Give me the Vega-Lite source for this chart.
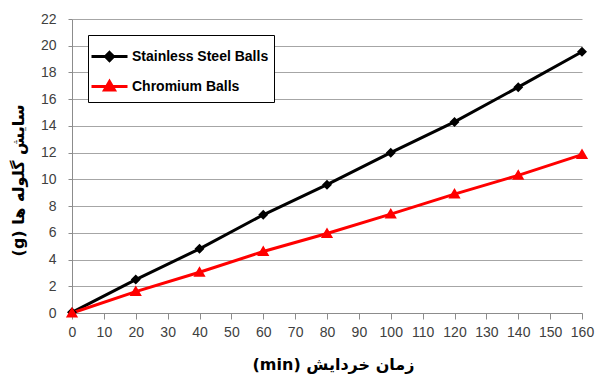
{
  "$schema": "https://vega.github.io/schema/vega-lite/v6.json",
  "width": 510,
  "height": 294,
  "autosize": {"type": "none"},
  "padding": {"left": 72, "top": 19, "right": 15, "bottom": 63},
  "background": "white",
  "config": {"view": {"stroke": null}},
  "data": {
    "values": [
      {"time": 0, "wear": 0.05, "series": "Stainless Steel Balls"},
      {"time": 20, "wear": 2.5, "series": "Stainless Steel Balls"},
      {"time": 40, "wear": 4.8, "series": "Stainless Steel Balls"},
      {"time": 60, "wear": 7.35, "series": "Stainless Steel Balls"},
      {"time": 80, "wear": 9.6, "series": "Stainless Steel Balls"},
      {"time": 100, "wear": 12.0, "series": "Stainless Steel Balls"},
      {"time": 120, "wear": 14.3, "series": "Stainless Steel Balls"},
      {"time": 140, "wear": 16.9, "series": "Stainless Steel Balls"},
      {"time": 160, "wear": 19.55, "series": "Stainless Steel Balls"},
      {"time": 0, "wear": 0, "series": "Chromium Balls"},
      {"time": 20, "wear": 1.6, "series": "Chromium Balls"},
      {"time": 40, "wear": 3.05, "series": "Chromium Balls"},
      {"time": 60, "wear": 4.6, "series": "Chromium Balls"},
      {"time": 80, "wear": 5.95, "series": "Chromium Balls"},
      {"time": 100, "wear": 7.4, "series": "Chromium Balls"},
      {"time": 120, "wear": 8.9, "series": "Chromium Balls"},
      {"time": 140, "wear": 10.3, "series": "Chromium Balls"},
      {"time": 160, "wear": 11.85, "series": "Chromium Balls"}
    ]
  },
  "encoding": {
    "x": {
      "field": "time", "type": "quantitative",
      "scale": {"domain": [0, 160], "nice": false},
      "axis": {
        "values": [0, 10, 20, 30, 40, 50, 60, 70, 80, 90, 100, 110, 120, 130, 140, 150, 160],
        "grid": false,
        "domainColor": "#8c8c8c", "tickColor": "#8c8c8c", "tickSize": 6,
        "labelFont": "Liberation Sans", "labelFontSize": 14, "labelColor": "#404040", "labelPadding": 6,
        "labelFlush": false, "labelOverlap": false,
        "title": "\u202Bزمان خردایش (min)\u202C",
        "titleFont": "DejaVu Sans", "titleFontSize": 16, "titleFontWeight": "bold", "titleColor": "#000000", "titlePadding": 17,
        "titleX": 261
      }
    },
    "y": {
      "field": "wear", "type": "quantitative",
      "scale": {"domain": [0, 22], "nice": false},
      "axis": {
        "values": [0, 2, 4, 6, 8, 10, 12, 14, 16, 18, 20, 22],
        "grid": true, "gridColor": "#a6a6a6", "gridWidth": 1,
        "domainColor": "#8c8c8c", "tickColor": "#8c8c8c", "tickSize": 4,
        "labelFont": "Liberation Sans", "labelFontSize": 14, "labelColor": "#404040", "labelPadding": 12,
        "labelFlush": false, "labelOverlap": false,
        "title": "\u202Bسایش گلوله ها (g)\u202C",
        "titleFont": "DejaVu Sans", "titleFontSize": 16, "titleFontWeight": "bold", "titleColor": "#000000", "titlePadding": 14,
        "titleY": 161
      }
    },
    "color": {
      "field": "series", "type": "nominal",
      "scale": {"domain": ["Stainless Steel Balls", "Chromium Balls"], "range": ["#000000", "#ff0000"]},
      "legend": {
        "orient": "none", "legendX": 16, "legendY": 16, "title": null,
        "strokeColor": "#000000", "fillColor": "#ffffff", "padding": 5,
        "labelFont": "Liberation Sans", "labelFontSize": 14, "labelFontWeight": "bold", "labelColor": "#000000",
        "symbolSize": 900, "symbolStrokeWidth": 3, "symbolOpacity": 1, "rowPadding": 3, "labelOffset": 6
      }
    }
  },
  "layer": [
    {
      "mark": {"type": "line", "strokeWidth": 3}
    },
    {
      "mark": {"type": "point", "filled": true, "opacity": 1, "size": 1369},
      "encoding": {
        "shape": {
          "field": "series", "type": "nominal",
          "scale": {
            "domain": ["Stainless Steel Balls", "Chromium Balls"],
            "range": ["M-1.2,0H1.2M0,-0.27L0.27,0L0,0.27L-0.27,0Z", "M-1.2,0H1.2M0,-0.33L0.33,0.24L-0.33,0.24Z"]
          },
          "legend": {
            "orient": "none", "legendX": 16, "legendY": 16, "title": null,
            "strokeColor": "#000000", "fillColor": "#ffffff", "padding": 5,
            "labelFont": "Liberation Sans", "labelFontSize": 14, "labelFontWeight": "bold", "labelColor": "#000000",
            "symbolSize": 900, "symbolStrokeWidth": 3, "symbolOpacity": 1, "rowPadding": 3, "labelOffset": 6
          }
        }
      }
    }
  ]
}
